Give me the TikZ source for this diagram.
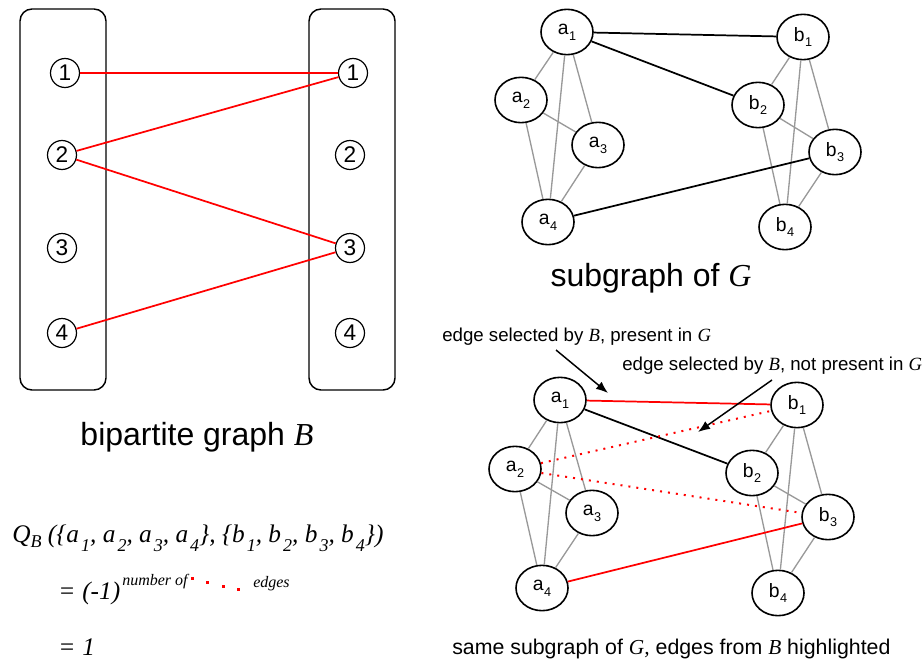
\documentclass[tikz,border=0pt]{standalone}
\usepackage{fontspec}
\setmainfont{Liberation Sans}
\newfontfamily\tms{Liberation Serif}
\usetikzlibrary{shapes.geometric,arrows.meta}
\newcommand\nsub[1]{\kern0.03em\raisebox{-0.3em}{\fontsize{9.5}{9.5}\selectfont #1}}
\newcommand\isub[1]{\kern0.08em\raisebox{-0.36em}{\fontsize{13.5}{13.5}\selectfont #1}}
\newcommand\qsub[1]{\raisebox{-0.22em}{\fontsize{13.5}{13.5}\selectfont #1}}
\begin{document}
\begin{tikzpicture}[x=0.75pt,y=-0.75pt,
 part/.style={draw,line width=1.1pt,rounded corners=9pt,minimum width=64.5pt,minimum height=285.75pt,inner sep=0pt},
 num/.style={draw,circle,line width=0.9pt,minimum size=21.75pt,inner sep=0pt,font=\fontsize{17}{17}\selectfont},
 vtx/.style={draw,ellipse,line width=1.2pt,minimum width=39pt,minimum height=34pt,inner sep=0pt,font=\fontsize{14.5}{15}\selectfont},
 redge/.style={red,line width=1.3pt},
 bedge/.style={black,line width=1.3pt},
 gedge/.style={black!40,line width=1pt},
 dedge/.style={red,line width=1.5pt,dash pattern=on 1.5pt off 4.5pt},
 ptr/.style={line width=1.1pt,-{Latex[length=9pt,width=7pt]}},
 txt/.style={inner sep=0pt,anchor=base west},
 math/.style={inner sep=0pt,anchor=base west,font=\tms\itshape\fontsize{19}{23}\selectfont},
]
\useasboundingbox (0,0) rectangle (923,660);

% ---------- bipartite graph B ----------
\node[part] (leftbox) at (63,199.5) {};
\node[part] (rightbox) at (352,199.5) {};
\node[num] (l1) at (65,73) {1};
\node[num] (l2) at (62,155) {2};
\node[num] (l3) at (62,248) {3};
\node[num] (l4) at (62,333) {4};
\node[num] (r1) at (353,73) {1};
\node[num] (r2) at (350,155) {2};
\node[num] (r3) at (350,248) {3};
\node[num] (r4) at (350,333) {4};
\draw[redge] (l1) -- (r1);
\draw[redge] (l2) -- (r1);
\draw[redge] (l2) -- (r3);
\draw[redge] (l4) -- (r3);
\node[inner sep=0pt,anchor=base,font=\fontsize{24}{28}\selectfont] (capB) at (197,445) {bipartite graph {\tms\itshape B}};

% ---------- subgraph of G ----------
\node[vtx] (a1) at (567,32) {a\nsub{1}};
\node[vtx] (a2) at (521,100) {a\nsub{2}};
\node[vtx] (a3) at (598,145) {a\nsub{3}};
\node[vtx] (a4) at (548,222) {a\nsub{4}};
\node[vtx] (b1) at (803,37) {b\nsub{1}};
\node[vtx] (b2) at (758,105) {b\nsub{2}};
\node[vtx] (b3) at (835,152) {b\nsub{3}};
\node[vtx] (b4) at (785,227) {b\nsub{4}};
\foreach \u/\v in {a1/a2,a1/a3,a1/a4,a2/a3,a2/a4,a3/a4,b1/b2,b1/b3,b1/b4,b2/b3,b2/b4,b3/b4}
  \draw[gedge] (\u) -- (\v);
\draw[bedge] (a1) -- (b1);
\draw[bedge] (a1) -- (b2);
\draw[bedge] (a4) -- (b3);
\node[inner sep=0pt,anchor=base,font=\fontsize{24}{28}\selectfont] (capG) at (651,286) {subgraph of {\tms\itshape G}};

% ---------- highlighted subgraph ----------
\node[vtx] (c1) at (560,400) {a\nsub{1}};
\node[vtx] (c2) at (515,469) {a\nsub{2}};
\node[vtx] (c3) at (592,513) {a\nsub{3}};
\node[vtx] (c4) at (542,588) {a\nsub{4}};
\node[vtx] (d1) at (797,405) {b\nsub{1}};
\node[vtx] (d2) at (752,473) {b\nsub{2}};
\node[vtx] (d3) at (828,517) {b\nsub{3}};
\node[vtx] (d4) at (778,593) {b\nsub{4}};
\foreach \u/\v in {c1/c2,c1/c3,c1/c4,c2/c3,c2/c4,c3/c4,d1/d2,d1/d3,d1/d4,d2/d3,d2/d4,d3/d4}
  \draw[gedge] (\u) -- (\v);
\draw[redge] (c1) -- (d1);
\draw[bedge] (c1) -- (d2);
\draw[redge] (c4) -- (d3);
\draw[dedge] (c2) -- (d1);
\draw[dedge] (c2) -- (d3);

\node[txt,font=\fontsize{14}{16}\selectfont] (lab1) at (442,341) {edge selected by {\tms\itshape B}, present in {\tms\itshape G}};
\node[txt,font=\fontsize{14}{16}\selectfont] (lab2) at (622,370) {edge selected by {\tms\itshape B}, not present in {\tms\itshape G}};
\coordinate (p1s) at (556,350);
\coordinate (p1e) at (608,393);
\coordinate (p2s) at (772,380);
\coordinate (p2e) at (698,432);
\draw[ptr] (p1s) -- (p1e);
\draw[ptr] (p2s) -- (p2e);

\node[txt,font=\fontsize{16}{18}\selectfont] (capH) at (452,654) {same subgraph of {\tms\itshape G,} edges from {\tms\itshape B} highlighted};

% ---------- formula ----------
\node[math] (qb) at (12,542) {Q\qsub{B} (\{a\isub{1}, a\isub{2}, a\isub{3}, a\isub{4}\}, \{b\isub{1}, b\isub{2}, b\isub{3}, b\isub{4}\})};
\node[math] (eqa) at (58,599) {=};
\node[math] (mone) at (82,599) {(-1)};
\node[txt,font=\tms\itshape\fontsize{12}{14}\selectfont] (nof) at (122,585) {number of};
\foreach \px/\py in {191/577,206/581,222/585,237/588}
  \fill[red] (\px,\py) rectangle +(3.2,3.2);
\node[txt,font=\tms\itshape\fontsize{12}{14}\selectfont] (edg) at (253,587) {edges};
\node[math] (eqb) at (58,655) {=};
\node[math] (one) at (82,655) {1};
\end{tikzpicture}
\end{document}
